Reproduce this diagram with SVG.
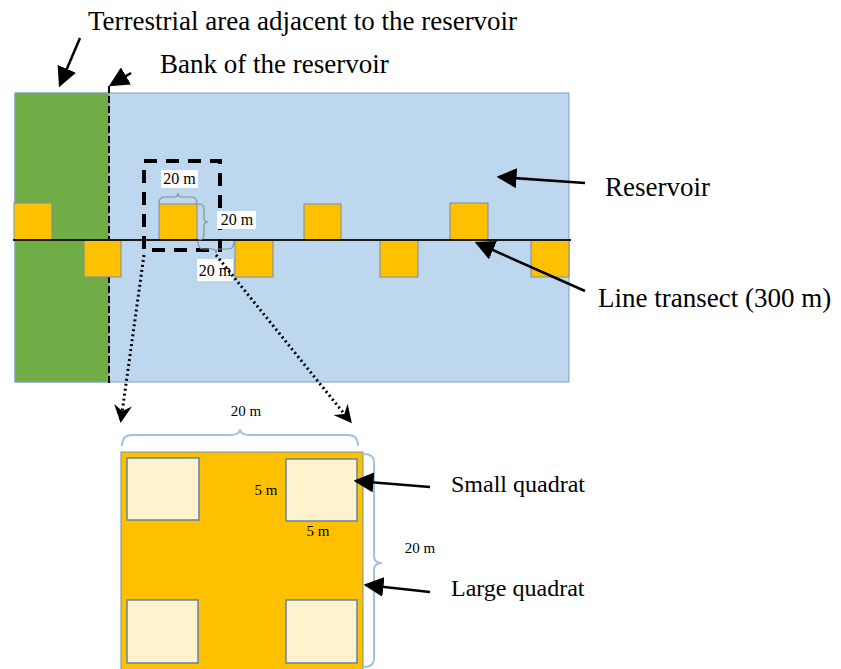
<svg xmlns="http://www.w3.org/2000/svg" width="841" height="669" viewBox="0 0 841 669">
<style>
.lbl{font-family:"Liberation Serif","Times New Roman",serif;fill:#000}
.big{font-size:27px}
.med{font-size:24px}
.sm{font-size:16px}
.xs{font-size:15px}
.quad{fill:#FFC000;stroke:#6f8fae;stroke-width:1}
.squad{fill:#FFF2CC;stroke:#5f86ab;stroke-width:1.5}
.arr{stroke:#000;stroke-width:2.5;fill:none;marker-end:url(#ah)}
.dot{stroke:#000;stroke-width:3;fill:none;stroke-dasharray:2 3;marker-end:url(#dh)}
.brace{fill:none;stroke:#7f8f9f;stroke-width:1.2}
.bbrace{fill:none;stroke:#9dc3e6;stroke-width:2}
</style>
<defs>
<marker id="ah" markerWidth="8" markerHeight="8" refX="7" refY="4" orient="auto" markerUnits="strokeWidth" viewBox="0 0 8 8">
<path d="M0,0 L8,4 L0,8 z" fill="#000"/>
</marker>
<marker id="dh" markerWidth="6" markerHeight="6" refX="5" refY="3" orient="auto" markerUnits="strokeWidth" viewBox="0 0 6 6">
<path d="M0,0 L6,3 L0,6 L2,3 z" fill="#000"/>
</marker>
</defs>
<rect width="841" height="669" fill="#fff"/>
<g id="reservoir">
<rect x="15" y="93" width="554" height="289" fill="#BDD7EE" stroke="#7f9fbf" stroke-width="1"/>
</g>
<g id="terrestrial">
<rect x="15" y="93" width="94" height="289" fill="#70AD47" stroke="#7f9fbf" stroke-width="1"/>
</g>
<g id="bank">
<line x1="109" y1="86" x2="109" y2="384" stroke="#000" stroke-width="2" stroke-dasharray="7 3"/>
</g>
<g id="quadrats-top">
<rect class="quad" x="14" y="203" width="38" height="37"/>
<rect class="quad" x="159" y="204" width="38" height="36"/>
<rect class="quad" x="304" y="204" width="37" height="36"/>
<rect class="quad" x="450" y="203" width="38" height="37"/>
</g>
<g id="quadrats-bottom">
<rect class="quad" x="84" y="240" width="37" height="37"/>
<rect class="quad" x="235" y="240" width="38" height="37"/>
<rect class="quad" x="380" y="240" width="38" height="37"/>
<rect class="quad" x="531" y="240" width="38" height="37"/>
</g>
<g id="transect">
<line x1="13" y1="240" x2="571" y2="240" stroke="#1a1a1a" stroke-width="2"/>
</g>
<g id="highlight">
<rect x="144" y="161" width="76" height="89" fill="none" stroke="#000" stroke-width="4" stroke-dasharray="13 9"/>
</g>
<g id="dims-small">
<path class="brace" d="M159,204 Q159,197 164,197 L174,197 Q178,197 178,193 Q178,197 182,197 L192,197 Q197,197 197,204"/>
<path class="brace" d="M198,204 Q204,204 204,209 L204,218 Q204,222 208,222 Q204,222 204,226 L204,235 Q204,240 198,240"/>
<path class="brace" d="M198,241 Q198,249 203,249 L212,249 Q216,249 216,253 Q216,249 220,249 L229,249 Q234,249 234,241"/>
<rect x="161" y="170" width="37" height="18" fill="#fff"/>
<text class="lbl sm" x="179.500" y="184" text-anchor="middle">20 m</text>
<rect x="217" y="211" width="39" height="18" fill="#fff"/>
<text class="lbl sm" x="237" y="225" text-anchor="middle">20 m</text>
<rect x="197" y="259" width="36" height="22" fill="#fff"/>
<text class="lbl sm" x="215" y="276" text-anchor="middle">20 m</text>
</g>
<g id="large-quadrat">
<rect class="quad" x="121" y="452" width="242" height="230" stroke-width="1.5"/>
<rect class="squad" x="127" y="458" width="72" height="62"/>
<rect class="squad" x="286" y="459" width="71" height="62"/>
<rect class="squad" x="127" y="600" width="71" height="63"/>
<rect class="squad" x="286" y="600" width="71" height="63"/>
<text class="lbl xs" x="266" y="495" text-anchor="middle">5 m</text>
<text class="lbl xs" x="318" y="536" text-anchor="middle">5 m</text>
</g>
<g id="dims-large">
<path class="bbrace" d="M122,446 Q122,435 132,435 L230,435 Q240,435 240,429 Q240,435 250,435 L348,435 Q358,435 358,446"/>
<path class="bbrace" d="M364,454 Q374,454 374,462 L374,556 Q374,563 382,563 Q374,563 374,570 L374,659 Q374,667 364,667"/>
<text class="lbl xs" x="246" y="416" text-anchor="middle">20 m</text>
<text class="lbl xs" x="420" y="553" text-anchor="middle">20 m</text>
</g>
<g id="connectors">
<line class="arr" x1="80" y1="38" x2="60" y2="85"/>
<line class="arr" x1="131" y1="73" x2="111" y2="85"/>
<line class="arr" x1="585" y1="183" x2="499" y2="177"/>
<line class="arr" x1="585" y1="291" x2="477" y2="243"/>
<line class="arr" x1="430" y1="487" x2="356" y2="481"/>
<line class="arr" x1="430" y1="592" x2="366" y2="585"/>
<line class="dot" x1="144" y1="255" x2="121" y2="420"/>
<line class="dot" x1="216" y1="255" x2="350" y2="421"/>
</g>
<g id="labels">
<text class="lbl big" x="88" y="30">Terrestrial area adjacent to the reservoir</text>
<text class="lbl big" x="160" y="73">Bank of the reservoir</text>
<text class="lbl big" x="605" y="196">Reservoir</text>
<text class="lbl big" x="598" y="307">Line transect (300 m)</text>
<text class="lbl med" x="451" y="492">Small quadrat</text>
<text class="lbl med" x="451" y="596">Large quadrat</text>
</g>
</svg>
